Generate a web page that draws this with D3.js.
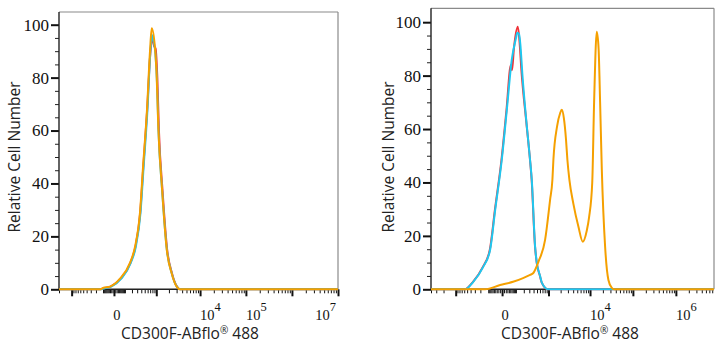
<!DOCTYPE html>
<html>
<head>
<meta charset="utf-8">
<script src="https://cdn.jsdelivr.net/npm/d3@7"></script>
<style>
body { margin: 0; background: #fff; }
.ylab text { font-family: "Liberation Serif", "Times New Roman", serif; font-size: 17px; fill: #111; }
.xlab { font-family: "Liberation Serif", "Times New Roman", serif; font-size: 14.5px; fill: #111; }
</style>
</head>
<body>
<div id="chart"></div>
<script>
//Histogram data: [fluorescence, relative count]
const leftRed = [[-2000,0],[-130,0],[-90,0.4],[-25,1],[55,4],[175,10],[262,16],[372,29],[455,46],[585,68],[705,89],[800,95],[880,92],[960,91],[1060,80],[1160,60],[1420,37],[1820,15],[2360,6],[3060,1],[3600,0],[1e7,0]];
const leftCyan = [[-2000,0],[-120,0],[-80,0.4],[-20,1],[60,4],[180,10],[270,16],[380,29],[465,46],[595,68],[710,90],[790,96],[850,94],[950,89],[1040,78],[1130,60],[1390,37],[1790,15],[2330,6],[3050,1],[3600,0],[1e7,0]];
const leftOrange = [[-2000,0],[-140,0],[-100,0.5],[-30,1],[48,4],[168,10],[255,16],[366,29],[448,46],[578,68],[693,90],[767,98.7],[930,91],[1024,80],[1121,61],[1377,38],[1780,15],[2320,6],[3020,1],[3600,0],[1e7,0]];

const rightRed = [[-4000,0],[-580,0],[-345,2.7],[-165,8.3],[-85,14.7],[-42,30],[-3,48.5],[24,67],[55,84],[64,82],[80,90],[120,98.3],[140,93],[165,82],[245,62],[312,49],[352,41],[440,16],[490,10],[600,5],[670,2.5],[970,0],[7.7e6,0]];
const rightCyan = [[-4000,0],[-570,0],[-339,2.7],[-161,8.3],[-82,14.7],[-40,30],[-1.5,48.5],[26,67],[62,86],[100,94],[115,96],[135,95.5],[150,92],[180,80],[251,61],[316,48.5],[355,41],[442,16],[492,10],[605,5],[672,2.5],[977,0],[7.7e6,0]];
const rightOrange = [[-4000,0],[-135,0],[-10,1.6],[73,2.8],[189,4.2],[316,5.4],[388,6],[545,10.3],[819,18.5],[1098,33.5],[1255,41],[1329,48.5],[1638,61],[1950,66],[2135,67.2],[2400,64],[2700,56],[2912,48.5],[3253,41],[4050,32],[5320,23.5],[6760,17.8],[8400,22],[9510,27],[11270,40],[12460,70],[14400,96.4],[15880,90],[17220,70],[18860,45],[22530,16],[26900,3.5],[32300,0.5],[36500,0],[7.7e6,0]];

const yTicks = [0, 20, 40, 60, 80, 100];
const leftXLabels = [0, 1e4, 1e5, 1e7];
const rightXLabels = [0, 1e4, 1e6];

const COLOURS = ['#ee3338', '#1ec8f0', '#f5a000'];
const WIDTH = 724;
const HEIGHT = 350;

let svg = d3.select('#chart')
.append('svg')
.attr('width', WIDTH)
.attr('height', HEIGHT);

//Panel layouts, logicle axis is approximated with a symlog scale
const panels = [
    {x0: 59, x1: 338, top: 12, bottom: 289.3, yMax: 104.8, xMin: -2000, xMax: 1e7, c: 137,
     labels: leftXLabels, series: [leftRed, leftCyan, leftOrange], titleX: 20, titleMid: 190},
    {x0: 431, x1: 714, top: 8.3, bottom: 289.3, yMax: 105.2, xMin: -4000, xMax: 7.7e6, c: 91,
     labels: rightXLabels, series: [rightRed, rightCyan, rightOrange], titleX: 394, titleMid: 570}
];

//Ticks at +-k*10^n like FlowJo
function xTickValues(min, max) {
    let ticks = [0];
    for (let n = 1; n <= 7; n++) {
        for (let k = 1; k <= 9; k++) {
            let v = k * Math.pow(10, n);
            if (v <= max) ticks.push(v);
            if (-v >= min) ticks.push(-v);
        }
    }
    return ticks;
}

function isMajor(v) {
    if (v == 0) return true;
    let a = Math.abs(v);
    let n = Math.round(Math.log10(a));
    return n >= 3 && Math.abs(a - Math.pow(10, n)) < 1e-6;
}

panels.forEach(p => {
    let xScale = d3.scaleSymlog().constant(p.c).domain([p.xMin, p.xMax]).range([p.x0, p.x1]);
    let yScale = d3.scaleLinear().domain([0, p.yMax]).range([p.bottom, p.top]);

    let g = svg.append('g');

    //frame
    g.append('line').attr('x1', p.x0).attr('x2', p.x1).attr('y1', p.top).attr('y2', p.top)
    .style('stroke', '#8a8a8a').style('stroke-width', 1.2);
    g.append('line').attr('x1', p.x1).attr('x2', p.x1).attr('y1', p.top).attr('y2', p.bottom)
    .style('stroke', '#8a8a8a').style('stroke-width', 1.2);

    //y axis
    let minorY = d3.range(0, 101, 5).filter(v => v % 20 != 0);
    let yMinor = g.append('g').attr('transform', `translate(${p.x0},0)`)
    .call(d3.axisLeft(yScale).tickValues(minorY).tickSize(4).tickFormat(''));
    yMinor.select('.domain').remove();
    yMinor.selectAll('line').style('stroke', '#222');

    let yMajor = g.append('g').attr('class', 'ylab').attr('transform', `translate(${p.x0},0)`)
    .call(d3.axisLeft(yScale).tickValues(yTicks).tickSize(8).tickPadding(2));
    yMajor.select('.domain').remove();
    yMajor.selectAll('line').style('stroke', '#111').style('stroke-width', 2);

    g.append('line').attr('x1', p.x0).attr('x2', p.x0).attr('y1', p.top).attr('y2', p.bottom)
    .style('stroke', '#222').style('stroke-width', 1.4);

    //x axis
    let allX = xTickValues(p.xMin, p.xMax);
    let xMinor = g.append('g').attr('transform', `translate(0,${p.bottom})`)
    .call(d3.axisBottom(xScale).tickValues(allX.filter(v => !isMajor(v))).tickSize(4).tickFormat(''));
    xMinor.select('.domain').remove();
    xMinor.selectAll('line').style('stroke', '#111');

    let xMajor = g.append('g').attr('transform', `translate(0,${p.bottom})`)
    .call(d3.axisBottom(xScale).tickValues(allX.filter(v => isMajor(v))).tickSize(7).tickFormat(''));
    xMajor.select('.domain').remove();
    xMajor.selectAll('line').style('stroke', '#111').style('stroke-width', 2);

    g.append('line').attr('x1', p.x0).attr('x2', p.x1).attr('y1', p.bottom).attr('y2', p.bottom)
    .style('stroke', '#222').style('stroke-width', 1.4);

    //x tick labels
    p.labels.forEach(v => {
        let x = xScale(v);
        let t = g.append('text')
        .attr('class', 'xlab')
        .attr('y', 320);
        if (v == 0) {
            t.attr('x', x + 3).attr('text-anchor', 'middle').text('0');
        } else {
            let n = Math.round(Math.log10(v));
            let anchor = 'start';
            if (x + 22 > p.x1) {
                x = p.x1 - 2;
                anchor = 'end';
            }
            t.attr('x', x).attr('text-anchor', anchor);
            t.append('tspan').text('10');
            t.append('tspan').attr('dy', -9).style('font-size', '12.5px').text(n);
        }
    });

    //histograms
    let line = d3.line()
    .x(d => xScale(d[0]))
    .y(d => yScale(d[1]))
    .curve(d3.curveMonotoneX);

    p.series.forEach((s, i) => {
        g.append('path')
        .datum(s)
        .attr('d', line)
        .style('fill', 'none')
        .style('stroke', COLOURS[i])
        .style('stroke-width', 2)
        .style('stroke-linejoin', 'round');
    });

    //axis titles
    g.append('text')
    .attr('transform', `translate(${p.titleX},157) rotate(-90)`)
    .attr('text-anchor', 'middle')
    .style('font-family', '"Open Sans", sans-serif')
    .style('font-size', '15.5px')
    .style('fill', '#222')
    .text('Relative Cell Number');

    let xt = g.append('text')
    .attr('x', p.titleMid)
    .attr('y', 339)
    .attr('text-anchor', 'middle')
    .style('font-family', '"Open Sans", sans-serif')
    .style('font-size', '15.5px')
    .style('fill', '#222');
    xt.append('tspan').text('CD300F-ABflo');
    xt.append('tspan').attr('dy', -5).style('font-size', '10px').text('®');
    xt.append('tspan').attr('dy', 5).text(' 488');
});
</script>
</body>
</html>
